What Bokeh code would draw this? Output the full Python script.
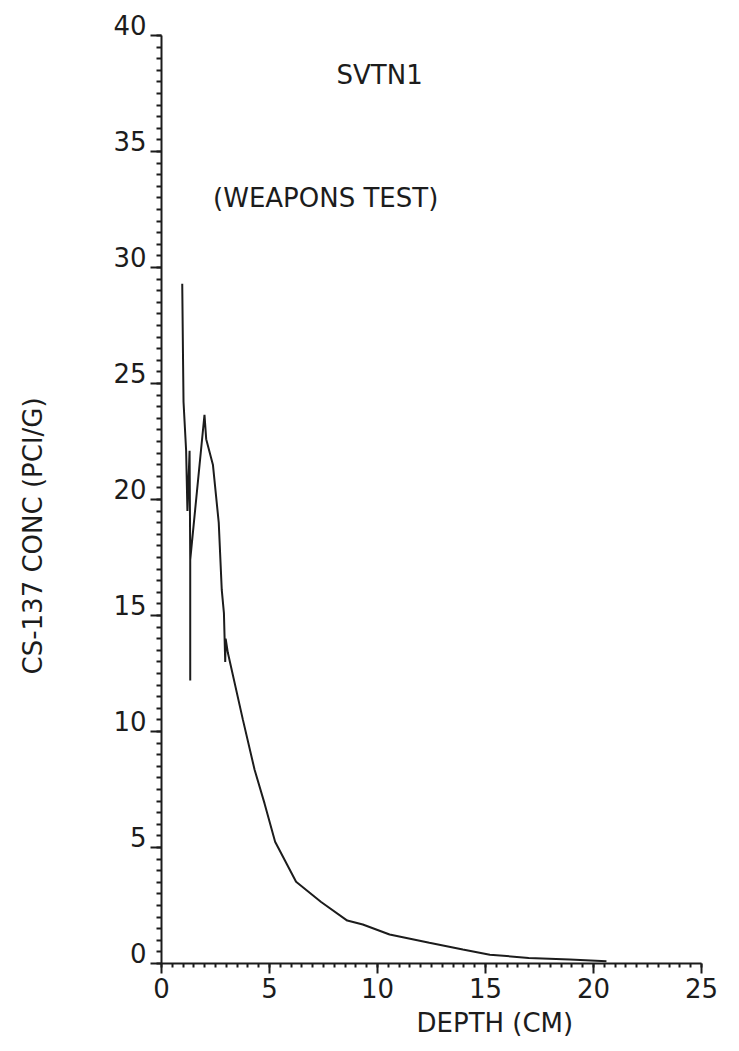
from bokeh.plotting import figure
from bokeh.models import Range1d, Label, FixedTicker, LinearAxis, Title
from bokeh.embed import file_html
from bokeh.resources import INLINE
import math

# Depth profile (cm) vs Cs-137 concentration (pCi/g)
depth = [0.96, 1.00, 1.02, 1.14, 1.20, 1.30, 1.33, 1.33, 1.33, 1.99, 2.07, 2.38,
         2.65, 2.79, 2.89, 2.95, 2.97, 3.07, 3.77, 4.31, 4.77, 5.26, 6.23, 7.39,
         8.60, 9.32, 10.56, 12.4, 13.95, 15.2, 17.0, 18.9, 20.6]
conc = [29.3, 25.8, 24.2, 22.1, 19.5, 22.1, 17.4, 12.2, 17.4, 23.65, 22.6, 21.5,
        19.0, 16.1, 15.1, 13.0, 14.0, 13.4, 10.5, 8.35, 6.9, 5.25, 3.52, 2.65,
        1.85, 1.68, 1.25, 0.89, 0.6, 0.38, 0.24, 0.17, 0.1]

x_ticks = [0, 5, 10, 15, 20, 25]
y_ticks = [0, 5, 10, 15, 20, 25, 30, 35, 40]
x_label = "DEPTH (CM)"
y_label = "CS-137 CONC (PCI/G)"
title_main = "SVTN1"
title_sub = "(WEAPONS TEST)"

FONT = "DejaVu Sans"
INK = "#1c1c1c"
LABEL_LIFT = 0.45   # tick labels of the y axis sit just above their ticks
Y_TITLE_AT = 24.4   # anchor of the rotated y title (its upper end)

p = figure(width=723, height=1043, output_backend="svg", toolbar_location=None,
           x_range=Range1d(0, 25), y_range=Range1d(0, 40.6),
           min_border_left=161, min_border_right=22, min_border_top=21,
           min_border_bottom=0)
p.outline_line_color = None
p.grid.visible = False
p.background_fill_color = "white"
p.border_fill_color = "white"

minor = [i * 0.5 for i in range(0, 81)]
for ax, ticks in ((p.xaxis[0], x_ticks), (p.yaxis[0], y_ticks)):
    ax.ticker = FixedTicker(ticks=ticks, minor_ticks=minor)
    ax.axis_line_color = INK
    ax.axis_line_width = 2
    ax.major_tick_line_color = INK
    ax.major_tick_line_width = 2
    ax.minor_tick_line_color = INK
    ax.minor_tick_line_width = 2
    ax.major_tick_in = 0
    ax.minor_tick_in = 0
    ax.major_label_text_font = FONT
    ax.major_label_text_font_size = "26px"
    ax.major_label_text_color = INK

p.xaxis.major_tick_out = 10
p.xaxis.minor_tick_out = 4
p.xaxis.major_label_standoff = 4

yax = p.yaxis[0]
yax.bounds = (0, 40)
yax.major_tick_out = 11
yax.minor_tick_out = 5
yax.major_label_standoff = 0
yax.major_label_overrides = {t: "" for t in y_ticks}
yax.major_label_text_font_size = "1px"

# tick-label axis, lifted slightly so labels rest on their ticks
lab_ax = LinearAxis(ticker=FixedTicker(ticks=[t + LABEL_LIFT for t in y_ticks], minor_ticks=[]),
                    major_label_overrides={t + LABEL_LIFT: str(t) for t in y_ticks},
                    axis_line_color=None, major_tick_line_color=None,
                    minor_tick_line_color=None, major_tick_out=0, major_tick_in=0,
                    major_label_standoff=4, major_label_text_font=FONT,
                    major_label_text_font_size="26px", major_label_text_color=INK)
p.add_layout(lab_ax, "left")

# axis that only carries the y title
title_ax = LinearAxis(ticker=FixedTicker(ticks=[Y_TITLE_AT], minor_ticks=[]),
                      major_label_overrides={Y_TITLE_AT: y_label},
                      major_label_orientation=math.pi / 2,
                      axis_line_color=None, major_tick_line_color=None,
                      minor_tick_line_color=None, major_tick_out=0, major_tick_in=0,
                      major_label_standoff=77, major_label_text_font=FONT,
                      major_label_text_font_size="26px", major_label_text_color=INK)
p.add_layout(title_ax, "left")

p.line(depth, conc, line_color=INK, line_width=2)

p.add_layout(Label(x=10.1, y=38.3, text=title_main, text_font=FONT,
                   text_font_size="26px", text_color=INK,
                   text_align="center", text_baseline="middle"))
p.add_layout(Label(x=7.6, y=33.0, text=title_sub, text_font=FONT,
                   text_font_size="26px", text_color=INK,
                   text_align="center", text_baseline="middle"))

p.add_layout(Title(text=x_label, text_font=FONT, text_font_size="26px",
                   text_color=INK, text_font_style="normal", align="left",
                   offset=255, standoff=11), "below")

open("out.html", "w").write(file_html(p, INLINE))
